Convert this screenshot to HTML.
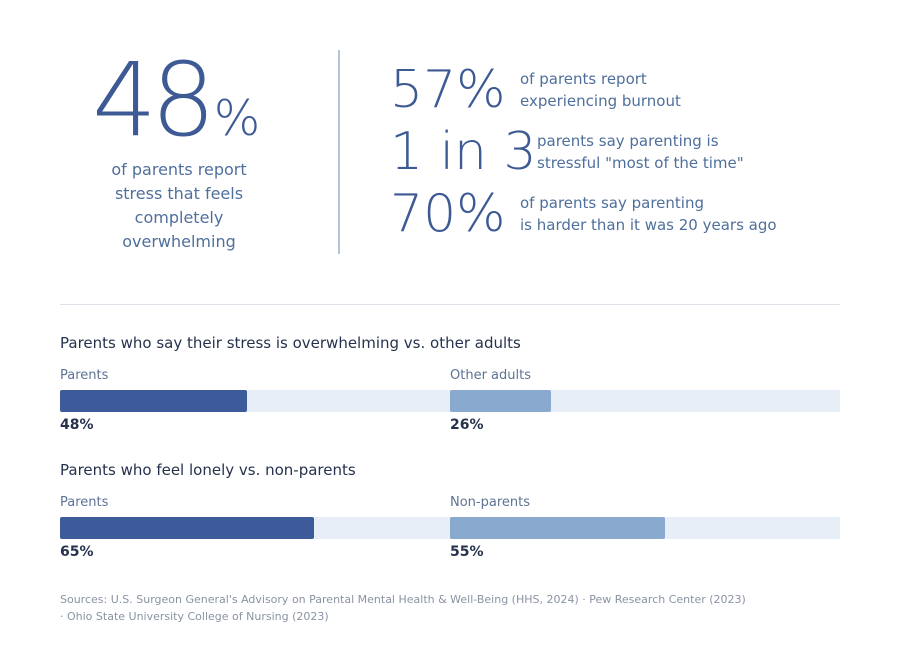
<!DOCTYPE html>
<html><head><meta charset="utf-8"><style>
body{margin:0;width:900px;height:665px;background:#fff;font-family:"DejaVu Sans","Liberation Sans",sans-serif;position:relative;overflow:hidden}
.a{position:absolute;white-space:nowrap}
.big{font-weight:200;color:#3d5a94}
.sub{color:#4f6f9c;font-size:15px;line-height:22px}
.lbl{font-size:13px;color:#5d7394}
.val{font-size:14px;font-weight:bold;color:#26324d}
.title{font-size:15px;color:#26324d}
.track{position:absolute;height:22px;background:#e8eef8}
.bar{position:absolute;height:22px;border-radius:2px}
</style></head><body>
<div class="a big" style="left:92px;top:41px;font-size:102px;letter-spacing:-6px">48<span style="font-size:49px;letter-spacing:0;margin-left:4px">%</span></div>
<div class="a sub" style="left:60px;top:158px;width:238px;text-align:center;line-height:24px;font-size:16px">of parents report<br>stress that feels<br>completely<br>overwhelming</div>
<div class="a" style="left:338px;top:50px;width:2px;height:204px;background:#b8c3d9"></div>
<div class="a big" style="left:390px;top:60px;font-size:52px">57%</div>
<div class="a sub" style="left:520px;top:68px">of parents report<br>experiencing burnout</div>
<div class="a big" style="left:390px;top:122px;font-size:52px">1 in 3</div>
<div class="a sub" style="left:537px;top:130px">parents say parenting is<br>stressful "most of the time"</div>
<div class="a big" style="left:390px;top:184px;font-size:52px">70%</div>
<div class="a sub" style="left:520px;top:192px">of parents say parenting<br>is harder than it was 20 years ago</div>
<div class="a" style="left:60px;top:304px;width:780px;height:1px;background:#dde1e8"></div>
<div id="charts"></div>
<div class="a" style="left:60px;top:591px;font-size:11px;line-height:17px;color:#8a93a3">Sources: U.S. Surgeon General's Advisory on Parental Mental Health &amp; Well-Being (HHS, 2024) · Pew Research Center (2023)<br>· Ohio State University College of Nursing (2023)</div>
<script>
const titles=["Parents who say their stress is overwhelming vs. other adults","Parents who feel lonely vs. non-parents"];
const leftLabels=["Parents","Parents"];
const rightLabels=["Other adults","Non-parents"];
const leftValues=[48,65];
const rightValues=[26,55];
const root=document.getElementById('charts');
function x(v){return v/100*390;}
function mk(cls,style,text){const d=document.createElement('div');d.className=cls;d.style.cssText=style;if(text)d.textContent=text;root.appendChild(d);return d;}
titles.forEach((t,i)=>{
 const y0=334+i*127;
 let e=mk('a title','left:60px;top:'+y0+'px',t);
 
 
 [[60,leftLabels[i],leftValues[i],'#3d5a9a'],[450,rightLabels[i],rightValues[i],'#8aa9cf']].forEach(([lx,l,v,c])=>{
  let a=mk('a lbl','left:'+lx+'px;top:'+(y0+34)+'px',l);
  
  
  let tr=mk('track','left:'+lx+'px;top:'+(y0+56)+'px;width:390px');
  
  
  let b=mk('bar','left:'+lx+'px;top:'+(y0+56)+'px;width:'+x(v)+'px;background:'+c);
  
  
  let vv=mk('a val','left:'+lx+'px;top:'+(y0+83)+'px',v+'%');
  
  
 });
});
</script>
</body></html>
